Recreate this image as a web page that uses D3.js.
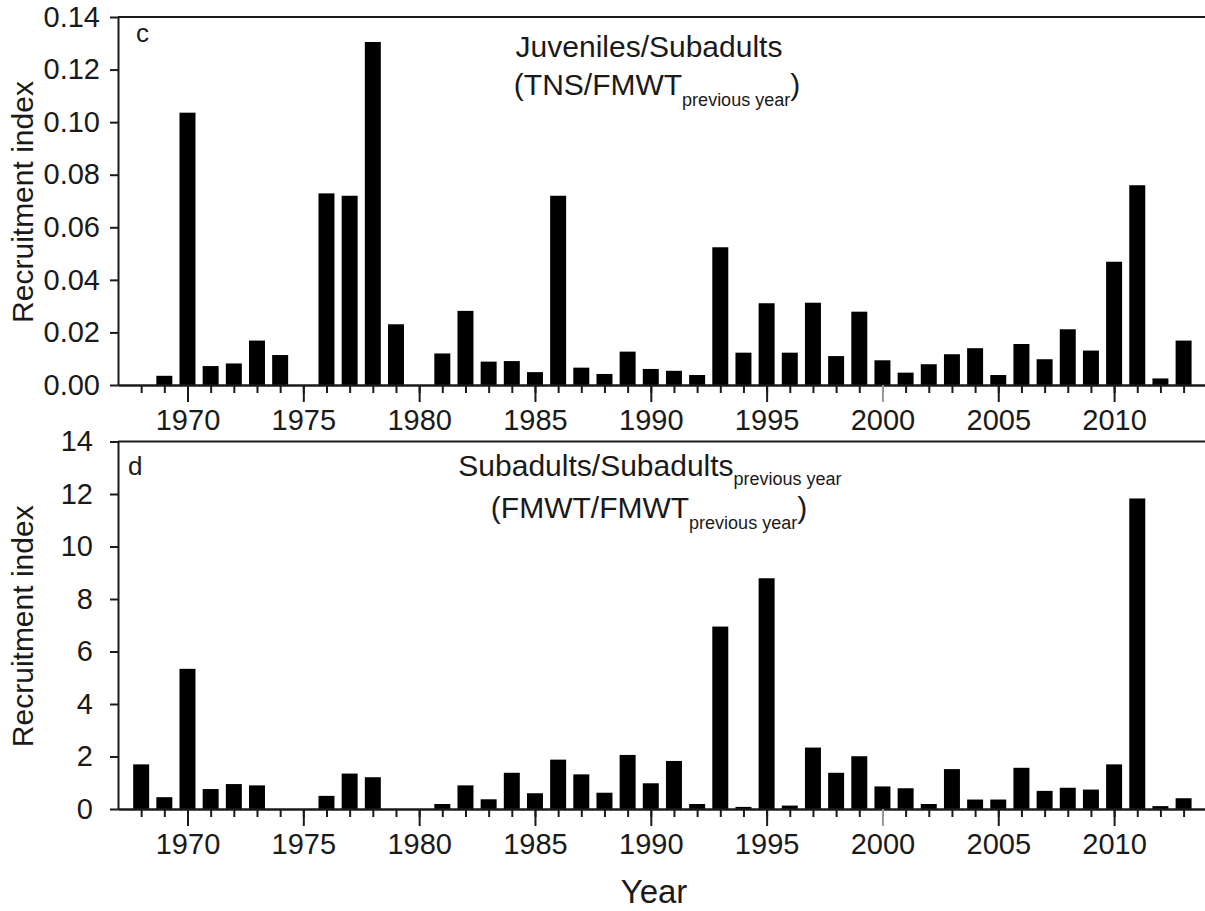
<!DOCTYPE html>
<html>
<head>
<meta charset="utf-8">
<script src="https://cdn.jsdelivr.net/npm/d3@7"></script>
<style>
    body { margin: 0; background: #fff; }
    svg { display: block; }
    text { font-family: "Liberation Sans", Arial, sans-serif; fill: #1a1a1a; }
    .axis path, .axis line { stroke: #1a1a1a; stroke-width: 2px; }
    .frame { stroke: #1a1a1a; stroke-width: 2px; }
</style>
</head>
<body>
<div id="chart"></div>
<script>
// years on the x axis (one bar per year, null = no bar)
const years = [1968, 1969, 1970, 1971, 1972, 1973, 1974, 1975, 1976, 1977,
    1978, 1979, 1980, 1981, 1982, 1983, 1984, 1985, 1986, 1987,
    1988, 1989, 1990, 1991, 1992, 1993, 1994, 1995, 1996, 1997,
    1998, 1999, 2000, 2001, 2002, 2003, 2004, 2005, 2006, 2007,
    2008, 2009, 2010, 2011, 2012, 2013];

// panel c: TNS / FMWT previous year
const juvenileIndex = [null, 0.0035, 0.1036, 0.0072, 0.0082, 0.0169, 0.0114, null, 0.0729, 0.0720,
    0.1305, 0.0231, null, 0.0120, 0.0282, 0.0089, 0.0091, 0.0049, 0.0720, 0.0066,
    0.0042, 0.0127, 0.0061, 0.0054, 0.0038, 0.0524, 0.0123, 0.0311, 0.0123, 0.0313,
    0.0110, 0.0279, 0.0094, 0.0047, 0.0079, 0.0117, 0.0140, 0.0038, 0.0156, 0.0098,
    0.0212, 0.0131, 0.0469, 0.0760, 0.0025, 0.0169];

// panel d: FMWT / FMWT previous year
const subadultIndex = [1.70, 0.45, 5.34, 0.76, 0.95, 0.90, null, null, 0.50, 1.35,
    1.21, null, null, 0.19, 0.90, 0.37, 1.38, 0.60, 1.88, 1.32,
    0.62, 2.06, 0.98, 1.83, 0.19, 6.95, 0.08, 8.79, 0.13, 2.34,
    1.38, 2.01, 0.86, 0.79, 0.19, 1.52, 0.36, 0.36, 1.57, 0.69,
    0.81, 0.74, 1.70, 11.83, 0.11, 0.41];

const yTicksTop = [0, 0.02, 0.04, 0.06, 0.08, 0.10, 0.12, 0.14];
const yTicksBottom = [0, 2, 4, 6, 8, 10, 12, 14];
const xLabelYears = [1970, 1975, 1980, 1985, 1990, 1995, 2000, 2005, 2010];

const width = 1205, height = 911;

const svg = d3.select("#chart").append("svg")
    .attr("width", width)
    .attr("height", height);

// shared x scale, plot runs off the right edge like the original figure
const x = d3.scaleLinear()
    .domain([1967, 2014.5])
    .range([118, 118 + 47.5 * 23.165]);

const barWidth = (x(1) - x(0)) * 0.69;

function drawPanel(cfg) {
    const y = d3.scaleLinear()
        .domain([0, cfg.yMax])
        .range([cfg.bottom, cfg.top]);

    const g = svg.append("g");

    const data = years.map((yr, i) => ({ year: yr, value: cfg.values[i] }))
        .filter(d => d.value !== null);

    // bars
    g.selectAll(".bar")
        .data(data)
        .enter()
        .append("rect")
        .attr("class", "bar")
        .attr("x", d => x(d.year) - barWidth / 2)
        .attr("y", d => y(d.value))
        .attr("width", barWidth)
        .attr("height", d => y(0) - y(d.value))
        .attr("fill", "#000");

    // top frame line
    g.append("line")
        .attr("class", "frame")
        .attr("x1", x.range()[0])
        .attr("x2", x.range()[1])
        .attr("y1", y(cfg.yMax))
        .attr("y2", y(cfg.yMax));

    // minor ticks every year
    g.append("g")
        .attr("class", "axis")
        .attr("transform", `translate(0,${cfg.bottom})`)
        .call(d3.axisBottom(x).tickValues(years).tickSize(8).tickSizeOuter(0).tickFormat(""));

    // major ticks + labels
    const xAxis = g.append("g")
        .attr("class", "axis")
        .attr("transform", `translate(0,${cfg.bottom})`)
        .call(d3.axisBottom(x).tickValues(xLabelYears).tickSize(17).tickSizeOuter(0).tickPadding(7).tickFormat(d3.format("d")));
    xAxis.selectAll("text").style("font-size", "29px").attr("fill", "#1a1a1a");
    xAxis.selectAll(".tick").filter(d => d === 2000).select("line").style("stroke", "#9a9a9a");

    // y axis
    const yAxis = g.append("g")
        .attr("class", "axis")
        .attr("transform", `translate(${x.range()[0]},0)`)
        .call(d3.axisLeft(y).tickValues(cfg.yTicks).tickSize(8).tickSizeOuter(0).tickPadding(cfg.yPad).tickFormat(d3.format(cfg.yFormat)));
    yAxis.selectAll("text").style("font-size", "29px").attr("fill", "#1a1a1a");

    // y label
    g.append("text")
        .attr("transform", `translate(33,${(cfg.top + cfg.bottom) / 2 + 1}) rotate(-90)`)
        .attr("text-anchor", "middle")
        .style("font-size", "30px")
        .text("Recruitment index");

    // panel letter
    g.append("text")
        .attr("x", cfg.letterX)
        .attr("y", cfg.top + cfg.letterDy)
        .style("font-size", "26px")
        .text(cfg.letter);

    // titles
    cfg.titles.forEach(t => {
        const txt = g.append("text")
            .attr("x", t.x)
            .attr("y", t.y)
            .attr("text-anchor", "middle")
            .style("font-size", "30px");
        txt.append("tspan").text(t.main);
        if (t.sub) {
            txt.append("tspan").attr("dy", t.subDy).style("font-size", "18px").text(t.sub);
        }
        if (t.end) {
            txt.append("tspan").attr("dy", -t.subDy).text(t.end);
        }
    });
}

drawPanel({
    values: juvenileIndex,
    yMax: 0.14,
    top: 17,
    bottom: 385,
    yTicks: yTicksTop,
    yFormat: ".2f",
    yPad: 10,
    letter: "c",
    letterX: 136,
    letterDy: 25,
    titles: [
        { x: 649, y: 57, main: "Juveniles/Subadults" },
        { x: 657, y: 95, main: "(TNS/FMWT", sub: "previous year", subDy: 11, end: ")" }
    ]
});

drawPanel({
    values: subadultIndex,
    yMax: 14,
    top: 441.5,
    bottom: 809,
    yTicks: yTicksBottom,
    yFormat: "d",
    yPad: 17,
    letter: "d",
    letterX: 128,
    letterDy: 33,
    titles: [
        { x: 650, y: 476, main: "Subadults/Subadults", sub: "previous year", subDy: 9 },
        { x: 649, y: 518, main: "(FMWT/FMWT", sub: "previous year", subDy: 11, end: ")" }
    ]
});

// shared x label
svg.append("text")
    .attr("x", 654)
    .attr("y", 903)
    .attr("text-anchor", "middle")
    .style("font-size", "33px")
    .text("Year");
</script>
</body>
</html>
